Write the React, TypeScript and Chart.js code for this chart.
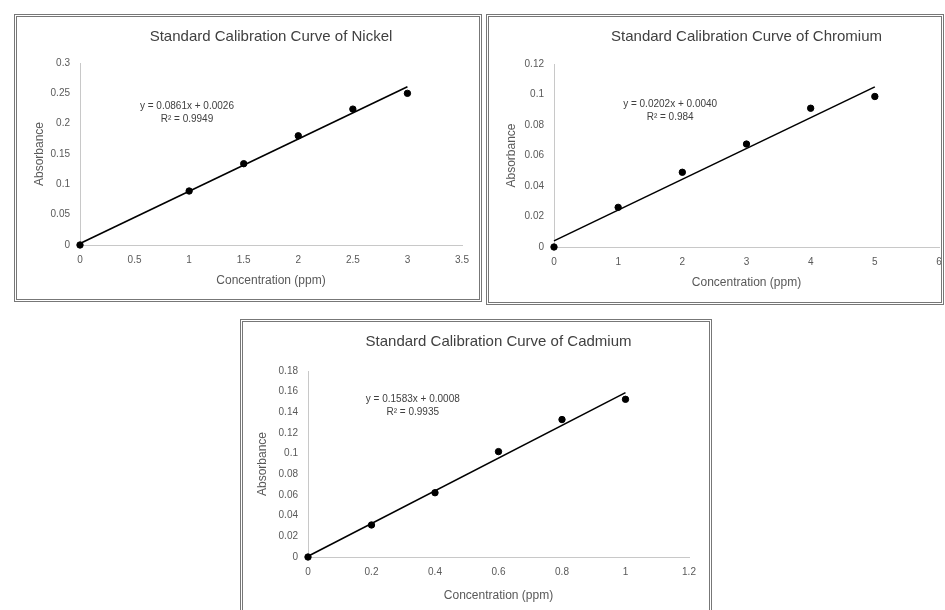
import React, { useEffect, useRef } from "react";
import { Chart, registerables } from "chart.js";
Chart.register(...registerables);

// ---------- data ----------
const nickelConc = [0, 1, 1.5, 2, 2.5, 3];
const nickelAbs = [0, 0.089, 0.134, 0.18, 0.224, 0.25];
const nickelFitX = [0, 3];
const nickelFitY = [0.0026, 0.2609];
const nickelEquation = ["y = 0.0861x + 0.0026", "R² = 0.9949"];

const chromiumConc = [0, 1, 2, 3, 4, 5];
const chromiumAbs = [0, 0.026, 0.049, 0.0675, 0.091, 0.0987];
const chromiumFitX = [0, 5];
const chromiumFitY = [0.004, 0.105];
const chromiumEquation = ["y = 0.0202x + 0.0040", "R² = 0.984"];

const cadmiumConc = [0, 0.2, 0.4, 0.6, 0.8, 1];
const cadmiumAbs = [0, 0.031, 0.0622, 0.102, 0.133, 0.1526];
const cadmiumFitX = [0, 1];
const cadmiumFitY = [0.0008, 0.1591];
const cadmiumEquation = ["y = 0.1583x + 0.0008", "R² = 0.9935"];

const FONT = "'Liberation Sans', Arial, sans-serif";
const TXT = "#595959";

const equationPlugin = {
  id: "equation",
  afterDatasetsDraw(chart: any, _args: any, opts: any) {
    const { ctx, scales } = chart;
    const px = scales.x.getPixelForValue(opts.x);
    const py = scales.y.getPixelForValue(opts.y);
    ctx.save();
    ctx.font = `10px ${FONT}`;
    ctx.fillStyle = "#404040";
    ctx.textAlign = "center";
    ctx.textBaseline = "middle";
    (opts.lines as string[]).forEach((l, i) => ctx.fillText(l, px, py + i * 13));
    ctx.restore();
  },
};

type PanelProps = {
  title: string;
  xs: number[];
  ys: number[];
  fitX: number[];
  fitY: number[];
  eq: string[];
  eqAt: [number, number];
  xMax: number;
  xStep: number;
  yMax: number;
  yStep: number;
  box: { left: number; top: number; w: number; h: number };
  yWidth: number;
  xHeight: number;
  padRight: number;
  titlePadTop: number;
  titlePadBottom: number;
  xTitlePadBottom: number;
  yTitlePadTop: number;
};

const fmt = (v: any) => String(+Number(v).toFixed(4));

function Panel(p: PanelProps) {
  const ref = useRef<HTMLCanvasElement>(null);
  useEffect(() => {
    const chart = new Chart(ref.current as HTMLCanvasElement, {
      type: "scatter",
      data: {
        datasets: [
          {
            data: p.xs.map((x, i) => ({ x, y: p.ys[i] })),
            backgroundColor: "#000",
            borderColor: "#000",
            pointRadius: 3.2,
            showLine: false,
            clip: false,
          },
          {
            data: p.fitX.map((x, i) => ({ x, y: p.fitY[i] })),
            showLine: true,
            borderColor: "#000",
            borderWidth: 1.6,
            pointRadius: 0,
            clip: false,
          },
        ],
      },
      options: {
        responsive: false,
        animation: false,
        layout: { padding: { left: 0, right: p.padRight, top: 0, bottom: 0 } },
        plugins: {
          legend: { display: false },
          tooltip: { enabled: false },
          title: {
            display: true,
            text: p.title,
            fullSize: false,
            color: "#404040",
            font: { family: FONT, size: 15, weight: "normal" },
            padding: { top: p.titlePadTop, bottom: p.titlePadBottom },
          },
          equation: { x: p.eqAt[0], y: p.eqAt[1], lines: p.eq },
        } as any,
        scales: {
          x: {
            type: "linear",
            min: 0,
            max: p.xMax,
            grid: { display: false, drawTicks: false },
            border: { display: true, color: "#c8c8c8", width: 1 },
            ticks: {
              stepSize: p.xStep,
              padding: 9,
              color: TXT,
              font: { family: FONT, size: 10 },
              callback: fmt,
              maxRotation: 0,
            },
            title: {
              display: true,
              text: "Concentration (ppm)",
              color: TXT,
              font: { family: FONT, size: 12 },
              padding: { top: 0, bottom: p.xTitlePadBottom },
            },
            afterFit: (s: any) => {
              s.height = p.xHeight;
              s.paddingLeft = 0;
              s.paddingRight = 0;
            },
          },
          y: {
            type: "linear",
            min: 0,
            max: p.yMax,
            grid: { display: false, drawTicks: false },
            border: { display: true, color: "#c8c8c8", width: 1 },
            ticks: {
              stepSize: p.yStep,
              padding: 10,
              color: TXT,
              font: { family: FONT, size: 10 },
              callback: fmt,
            },
            title: {
              display: true,
              text: "Absorbance",
              color: TXT,
              font: { family: FONT, size: 12 },
              padding: { top: p.yTitlePadTop, bottom: 0 },
            },
            afterFit: (s: any) => {
              s.width = p.yWidth;
            },
          },
        },
      } as any,
      plugins: [equationPlugin],
    });
    return () => chart.destroy();
  }, []);
  const { left, top, w, h } = p.box;
  return (
    <div style={{ position: "absolute", left, top, width: w, height: h }}>
      <canvas ref={ref} width={w} height={h} style={{ position: "absolute", left: 0, top: 0, width: w, height: h }} />
      <div
        style={{
          position: "absolute",
          left: 0,
          top: 0,
          width: w,
          height: h,
          boxSizing: "border-box",
          border: "3px double #777",
          pointerEvents: "none",
        }}
      />
    </div>
  );
}

export default function App() {
  return (
    <div
      style={{
        position: "fixed",
        left: 0,
        top: 0,
        width: 945,
        height: 610,
        overflow: "hidden",
        background: "#fff",
      }}
    >
      <Panel
        title="Standard Calibration Curve of Nickel"
        xs={nickelConc}
        ys={nickelAbs}
        fitX={nickelFitX}
        fitY={nickelFitY}
        eq={nickelEquation}
        eqAt={[0.98, 0.229]}
        xMax={3.5}
        xStep={0.5}
        yMax={0.3}
        yStep={0.05}
        box={{ left: 14, top: 14, w: 468, h: 288 }}
        yWidth={66}
        xHeight={57}
        padRight={20}
        titlePadTop={14}
        titlePadBottom={17}
        xTitlePadBottom={14}
        yTitlePadTop={18}
      />
      <Panel
        title="Standard Calibration Curve of Chromium"
        xs={chromiumConc}
        ys={chromiumAbs}
        fitX={chromiumFitX}
        fitY={chromiumFitY}
        eq={chromiumEquation}
        eqAt={[1.81, 0.0937]}
        xMax={6}
        xStep={1}
        yMax={0.12}
        yStep={0.02}
        box={{ left: 486, top: 14, w: 458, h: 291 }}
        yWidth={68}
        xHeight={58}
        padRight={2}
        titlePadTop={14}
        titlePadBottom={18}
        xTitlePadBottom={15}
        yTitlePadTop={18}
      />
      <Panel
        title="Standard Calibration Curve of Cadmium"
        xs={cadmiumConc}
        ys={cadmiumAbs}
        fitX={cadmiumFitX}
        fitY={cadmiumFitY}
        eq={cadmiumEquation}
        eqAt={[0.33, 0.153]}
        xMax={1.2}
        xStep={0.2}
        yMax={0.18}
        yStep={0.02}
        box={{ left: 240, top: 319, w: 472, h: 300 }}
        yWidth={68}
        xHeight={62}
        padRight={23}
        titlePadTop={14}
        titlePadBottom={20}
        xTitlePadBottom={16}
        yTitlePadTop={15}
      />
    </div>
  );
}
